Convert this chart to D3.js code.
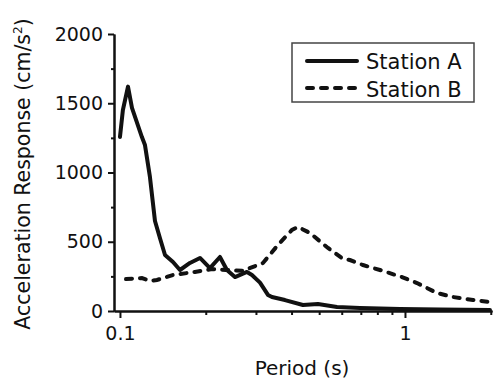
<!DOCTYPE html>
<html>
<head>
<meta charset="utf-8">
<script src="https://cdnjs.cloudflare.com/ajax/libs/d3/7.8.5/d3.min.js"></script>
<style>
  body { margin: 0; background: #fff; }
  svg { display: block; font-family: "DejaVu Sans", sans-serif; }
</style>
</head>
<body>
<svg id="chart" width="495" height="381"></svg>
<script>
// Station A (solid) - period (s) / acceleration (cm/s2)
var periodA = [0.1, 0.1024, 0.1067, 0.1102, 0.1194, 0.1224, 0.1274, 0.1327, 0.1381, 0.1439,
  0.1535, 0.1624, 0.176, 0.1909, 0.2069, 0.2243, 0.2373, 0.2532, 0.279, 0.2905,
  0.31, 0.3306, 0.3415, 0.3793, 0.4386, 0.4951, 0.5774, 0.6952, 0.9605, 1.327, 1.987];
var accelA = [1256, 1451, 1620, 1466, 1256, 1198, 968, 650, 527, 404,
  354, 296, 347, 383, 310, 390, 296, 245, 282, 260,
  205, 116, 101, 79, 43, 50, 29, 22, 14, 10, 8];

// Station B (dashed)
var periodB = [0.105, 0.1194, 0.1274, 0.1348, 0.1535, 0.1833, 0.2102, 0.2355, 0.2702, 0.3176,
  0.3584, 0.4013, 0.4214, 0.4642, 0.5369, 0.606, 0.6412, 0.7122, 0.8171, 0.9761,
  1.102, 1.295, 1.474, 1.733, 1.987];
var accelB = [231, 238, 217, 224, 260, 282, 303, 296, 290, 347,
  477, 585, 607, 563, 455, 376, 368, 332, 296, 245,
  202, 130, 101, 79, 65];

var xMajor = [0.1, 1];
var xMinor = [0.2, 0.3, 0.4, 0.5, 0.6, 0.7, 0.8, 0.9, 2];
var yMajor = [0, 500, 1000, 1500, 2000];
var yMinor = [250, 750, 1250, 1750];
var legendNames = ["Station A", "Station B"];

var svg = d3.select("#chart");

var x = d3.scaleLog().domain([0.0953, 2.02]).range([114, 492]);
var y = d3.scaleLinear().domain([0, 2000]).range([311, 34]);

var line = d3.line()
  .x(function(d) { return x(d[0]); })
  .y(function(d) { return y(d[1]); });

// curves first so axes sit on top
svg.append("path")
  .datum(d3.zip(periodA, accelA))
  .attr("d", line)
  .attr("fill", "none")
  .attr("stroke", "#111")
  .attr("stroke-width", 4)
  .attr("stroke-linejoin", "round")
  .attr("stroke-linecap", "round");

svg.append("path")
  .datum(d3.zip(periodB, accelB))
  .attr("d", line)
  .attr("fill", "none")
  .attr("stroke", "#111")
  .attr("stroke-width", 4)
  .attr("stroke-dasharray", "6,8")
  .attr("stroke-linecap", "round");

// x axis
var gx = svg.append("g").attr("transform", "translate(0,311)");
gx.call(d3.axisBottom(x).tickValues(xMinor).tickSize(4).tickSizeOuter(0).tickFormat(""));
gx.append("g").call(d3.axisBottom(x).tickValues(xMajor).tickSize(7).tickSizeOuter(0)
  .tickPadding(9).tickFormat(d3.format("")));

// y axis
var gy = svg.append("g").attr("transform", "translate(114,0)");
gy.call(d3.axisLeft(y).tickValues(yMinor).tickSize(3).tickSizeOuter(0).tickFormat(""));
gy.append("g").call(d3.axisLeft(y).tickValues(yMajor).tickSize(6).tickSizeOuter(0)
  .tickPadding(5).tickFormat(d3.format("d")));

svg.selectAll(".domain, .tick line")
  .attr("stroke", "#111")
  .attr("stroke-width", 2);
svg.selectAll(".tick text")
  .attr("fill", "#111")
  .style("font-size", "19px")
  .style("font-family", "'DejaVu Sans', sans-serif");

// axis titles
svg.append("text")
  .attr("x", 302)
  .attr("y", 375)
  .attr("text-anchor", "middle")
  .style("font-size", "20px")
  .attr("fill", "#111")
  .text("Period (s)");

var ylab = svg.append("text")
  .attr("transform", "translate(30,174) rotate(-90)")
  .attr("text-anchor", "middle")
  .style("font-size", "20.5px")
  .attr("fill", "#111");
ylab.append("tspan").text("Acceleration Response (cm/s");
ylab.append("tspan").attr("dy", -8).style("font-size", "12px").text("2");
ylab.append("tspan").attr("dy", 8).text(")");

// legend
var leg = svg.append("g");
leg.append("rect")
  .attr("x", 292).attr("y", 43)
  .attr("width", 182).attr("height", 59)
  .attr("fill", "#fff")
  .attr("stroke", "#444")
  .attr("stroke-width", 1.5);

leg.selectAll("line.key")
  .data(legendNames)
  .enter().append("line")
  .attr("class", "key")
  .attr("x1", 307).attr("x2", 357)
  .attr("y1", function(d, i) { return 61 + i * 27; })
  .attr("y2", function(d, i) { return 61 + i * 27; })
  .attr("stroke", "#111")
  .attr("stroke-width", 4)
  .attr("stroke-linecap", "round")
  .attr("stroke-dasharray", function(d, i) { return i == 1 ? "6,8" : null; });

leg.selectAll("text")
  .data(legendNames)
  .enter().append("text")
  .attr("x", 366)
  .attr("y", function(d, i) { return 69 + i * 28; })
  .style("font-size", "21px")
  .attr("fill", "#111")
  .text(function(d) { return d; });
</script>
</body>
</html>
